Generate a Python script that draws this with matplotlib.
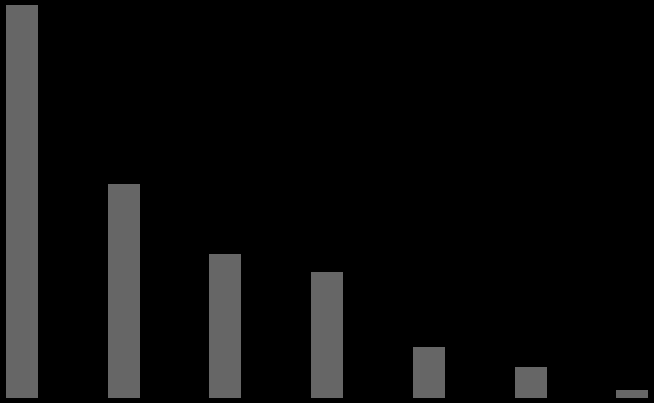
import matplotlib
matplotlib.use("Agg")
import matplotlib.pyplot as plt

categories = ["A", "B", "C", "D", "E", "F", "G"]
values = [393, 214, 144, 126, 51, 31, 8]

fig = plt.figure(figsize=(6.54, 4.03), dpi=100, facecolor="black")
ax = fig.add_axes([0, 0, 1, 1])
ax.set_facecolor("black")
x = list(range(len(categories)))
ax.bar(x, values, width=0.315, color="#666666", edgecolor="none")
ax.set_xlim(-0.2163, 6.214)
ax.set_ylim(-5, 398)
ax.axis("off")
fig.savefig("out.png", dpi=100, facecolor="black")
